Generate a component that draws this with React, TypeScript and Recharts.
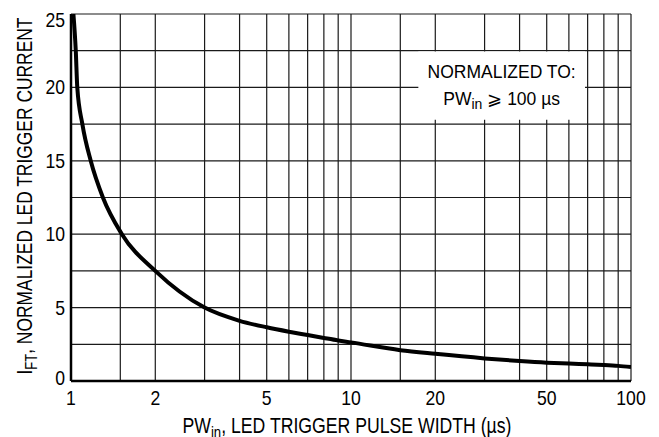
import { LineChart, Line, XAxis, YAxis, CartesianGrid, ReferenceArea, Label } from 'recharts';

// pulse width (µs) and normalized trigger current
const pulseWidth = [1.02, 1.04, 1.053, 1.098, 1.176, 1.3, 1.52, 2, 3, 4, 5, 6, 7, 8, 9, 10, 15, 20, 30, 40, 50, 60, 70, 80, 90, 100];
const triggerCurrent = [25, 22.5, 20, 17.5, 15, 12.5, 10, 7.5, 5, 4.1, 3.66, 3.36, 3.13, 2.93, 2.76, 2.63, 2.1, 1.85, 1.54, 1.36, 1.25, 1.19, 1.14, 1.09, 1.03, 0.95];

const xGridTicks = [1, 1.5, 2, 3, 4, 5, 6, 7, 8, 9, 10, 15, 20, 30, 40, 50, 60, 70, 80, 90, 100];
const xLabelTicks = [1, 2, 5, 10, 20, 50, 100];
const yGridTicks = [0, 2.5, 5, 7.5, 10, 12.5, 15, 17.5, 20, 22.5, 25];
const yLabelTicks = [0, 5, 10, 15, 20, 25];

const data = pulseWidth.map((pw, i) => ({ pw, ift: triggerCurrent[i] }));

const font = "'Liberation Sans', Arial, sans-serif";

// the original uses a condensed face, so squeeze the labels a bit
const XTick = (props: any) => {
  const { x, y, payload } = props;
  if (!xLabelTicks.includes(payload.value)) return null;
  return (
    <text transform={`translate(${x}, ${y + 22}) scale(0.88, 1)`} textAnchor="middle" fontFamily={font} fontSize={20} fill="#000">
      {payload.value}
    </text>
  );
};

const YTick = (props: any) => {
  const { x, y, payload } = props;
  if (!yLabelTicks.includes(payload.value)) return null;
  let shift = 0;
  if (payload.value === 25) shift = 6;
  if (payload.value === 0) shift = -3;
  return (
    <text transform={`translate(${x - 4}, ${y + 7 + shift}) scale(0.88, 1)`} textAnchor="end" fontFamily={font} fontSize={20} fill="#000">
      {payload.value}
    </text>
  );
};

const XTitle = (props: any) => {
  const vb = props.viewBox;
  return (
    <text x={vb.x + vb.width / 2 - 4} y={vb.y + 52} textAnchor="middle" textLength={329} lengthAdjust="spacingAndGlyphs" fontFamily={font} fontSize={21.5} fill="#000">
      PW<tspan fontSize={16} dy={5}>in</tspan><tspan dy={-5}>, LED TRIGGER PULSE WIDTH (µs)</tspan>
    </text>
  );
};

const YTitle = () => {
  const cx = 32;
  const cy = 196;
  return (
    <text x={cx} y={cy} transform={`rotate(-90, ${cx}, ${cy})`} textAnchor="middle" textLength={357} lengthAdjust="spacingAndGlyphs" fontFamily={font} fontSize={21.5} fill="#000">
      I<tspan fontSize={16} dy={5}>FT</tspan><tspan dy={-5}>, NORMALIZED LED TRIGGER CURRENT</tspan>
    </text>
  );
};

const NoteLabel = (props: any) => {
  const vb = props.viewBox;
  const cx = vb.x + vb.width / 2;
  return (
    <g fontFamily={font} fontSize={17.5} fill="#000">
      <text x={cx} y={vb.y + 27} textAnchor="middle">NORMALIZED TO:</text>
      <text x={cx} y={vb.y + 54} textAnchor="middle">
        PW<tspan fontSize={14} dy={4}>in</tspan><tspan dy={-4}> ⩾ 100 µs</tspan>
      </text>
    </g>
  );
};

export default function App() {
  return (
    <div style={{ position: 'absolute', left: 0, top: 0, width: 659, height: 437, background: '#fff' }}>
      <LineChart width={659} height={437} data={data} margin={{ top: 14, right: 28, bottom: 0, left: 0 }}>
        <CartesianGrid stroke="#1a1a1a" strokeWidth={1.2} />
        <XAxis
          type="number"
          dataKey="pw"
          scale="log"
          domain={[1, 100]}
          ticks={xGridTicks}
          interval={0}
          allowDataOverflow
          tickLine={false}
          tickSize={0}
          tick={<XTick />}
          axisLine={{ stroke: '#000', strokeWidth: 2.5 }}
          height={56}
        >
          <Label content={<XTitle />} />
        </XAxis>
        <YAxis
          type="number"
          domain={[0, 25]}
          ticks={yGridTicks}
          interval={0}
          allowDataOverflow
          tickLine={false}
          tickSize={0}
          tick={<YTick />}
          axisLine={{ stroke: '#000', strokeWidth: 2.5 }}
          width={71}
        >
          <Label content={<YTitle />} />
        </YAxis>
        <ReferenceArea x1={17.4} x2={68.5} y1={17.8} y2={22.45} fill="#fff" fillOpacity={1} stroke="none" ifOverflow="visible">
          <Label content={<NoteLabel />} />
        </ReferenceArea>
        <Line
          type="monotone"
          dataKey="ift"
          stroke="#000"
          strokeWidth={4}
          dot={false}
          activeDot={false}
          isAnimationActive={false}
        />
      </LineChart>
    </div>
  );
}
